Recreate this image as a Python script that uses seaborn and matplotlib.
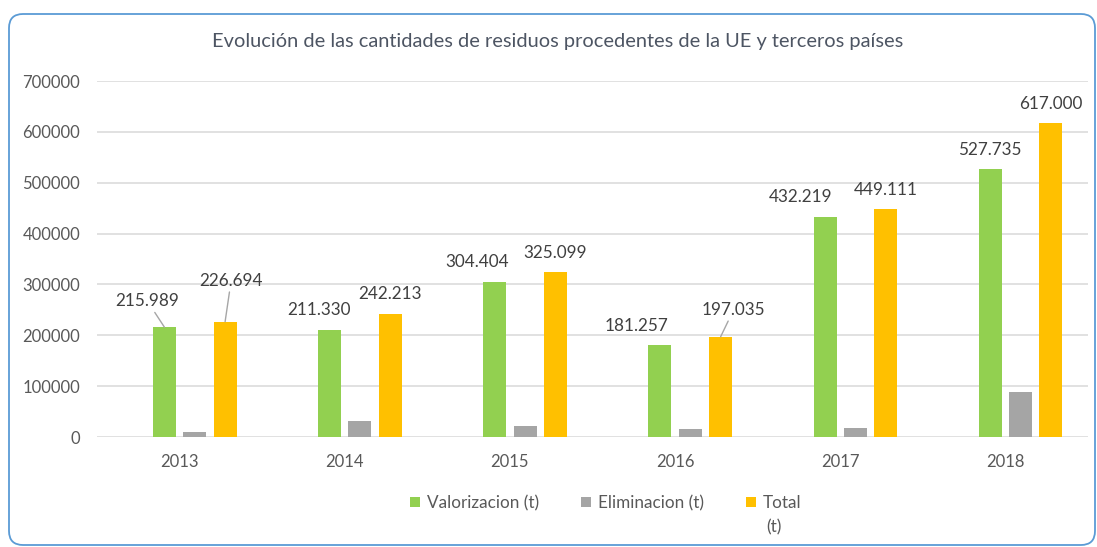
import numpy as np
import pandas as pd
import matplotlib.pyplot as plt
import matplotlib.transforms as mtransforms
from matplotlib.patches import FancyBboxPatch, Patch
import seaborn as sns

# Data
years = ["2013", "2014", "2015", "2016", "2017", "2018"]
valorizacion = [215989, 211330, 304404, 181257, 432219, 527735]
eliminacion = [10705, 30883, 20695, 15778, 16892, 89265]
total = [226694, 242213, 325099, 197035, 449111, 617000]
series = ["Valorizacion (t)", "Eliminacion (t)", "Total"]
y_ticks = [0, 100000, 200000, 300000, 400000, 500000, 600000, 700000]

colors = {"": "white", "Valorizacion (t)": "#92D050",
          "Eliminacion (t)": "#A5A5A5", "Total": "#FFC000"}

df = pd.DataFrame({
    "year": years * 3,
    "serie": [s for s in series for _ in years],
    "value": valorizacion + eliminacion + total,
})

sns.set_style("white")
plt.rcParams["font.family"] = ["Lato", "DejaVu Sans"]

fig = plt.figure(figsize=(10.97, 5.47), dpi=100)
ax = fig.add_axes([97 / 1097, 1 - 437 / 547, 991 / 1097, 356 / 547])

# an empty first hue level keeps the original (empty) slot to the left of each group
sns.barplot(data=df, x="year", y="value", hue="serie", order=years,
            hue_order=[""] + series, palette=colors, width=0.735, gap=0.24,
            linewidth=0, saturation=1, legend=False, ax=ax)

ax.set_ylim(0, 700000)
ax.set_yticks(y_ticks)
ax.set_yticklabels([str(t) for t in y_ticks])
ax.set_xlabel("")
ax.set_ylabel("")
ax.grid(axis="y", color="#D9D9D9", linewidth=1.1)
ax.set_axisbelow(True)
for s in ax.spines.values():
    s.set_visible(False)
ax.tick_params(axis="both", length=0, labelsize=12, labelcolor="#595959", pad=12)

# data labels (valorizacion and total), with small offsets as in the original
offsets_val = [(-17, 26, True), (-11, 20, False), (-18, 20, False),
               (-23, 19, False), (-24, 20, False), (0, 19, False)]
offsets_tot = [(6, 41, True), (0, 20, False), (0, 19, False),
               (13, 27, True), (0, 19, False), (0, 19, False)]

drawn = [c for c in ax.containers if len(c.patches) > 0]
for cont, vals, offs in [(drawn[0], valorizacion, offsets_val),
                         (drawn[2], total, offsets_tot)]:
    for bar, v, (dx, dy, leader) in zip(cont.patches, vals, offs):
        x = bar.get_x() + bar.get_width() / 2
        y = bar.get_height()
        label = f"{v:,}".replace(",", ".")
        kw = {}
        if leader:
            kw["arrowprops"] = dict(arrowstyle="-", color="#A6A6A6", lw=1.0,
                                    shrinkA=0, shrinkB=0)
        ax.annotate(label, xy=(x, y), xytext=(dx, dy), textcoords="offset pixels",
                    ha="center", va="center", fontsize=12.3, color="#404040", **kw)

fig.text(558 / 1097, 1 - 42 / 547,
         "Evolución de las cantidades de residuos procedentes de la UE y terceros países",
         ha="center", va="center", fontsize=14.4, color="#4D5563")

handles = [Patch(facecolor=colors[s], edgecolor="none") for s in series]
leg = fig.legend(handles, series, loc="center", bbox_to_anchor=(606 / 1097, 1 - 503 / 547),
                 ncol=3, frameon=False, fontsize=12.3, handlelength=0.6, handleheight=0.6,
                 handletextpad=0.4, columnspacing=2.45, labelcolor="#595959")

fig.canvas.draw()
bb = leg.get_texts()[2].get_window_extent()
fig.text((bb.x0 + 3) / 1097, (bb.y0 - 16) / 547, "(t)", ha="left", va="center",
         fontsize=12.3, color="#595959")

# rounded border of the chart area
border = FancyBboxPatch((9, 2), 1086, 531, boxstyle="round,pad=0,rounding_size=14",
                        transform=mtransforms.IdentityTransform(), facecolor="none",
                        edgecolor="#5B9BD5", linewidth=1.3)
fig.patches.append(border)

fig.savefig("out.png", dpi=100)
